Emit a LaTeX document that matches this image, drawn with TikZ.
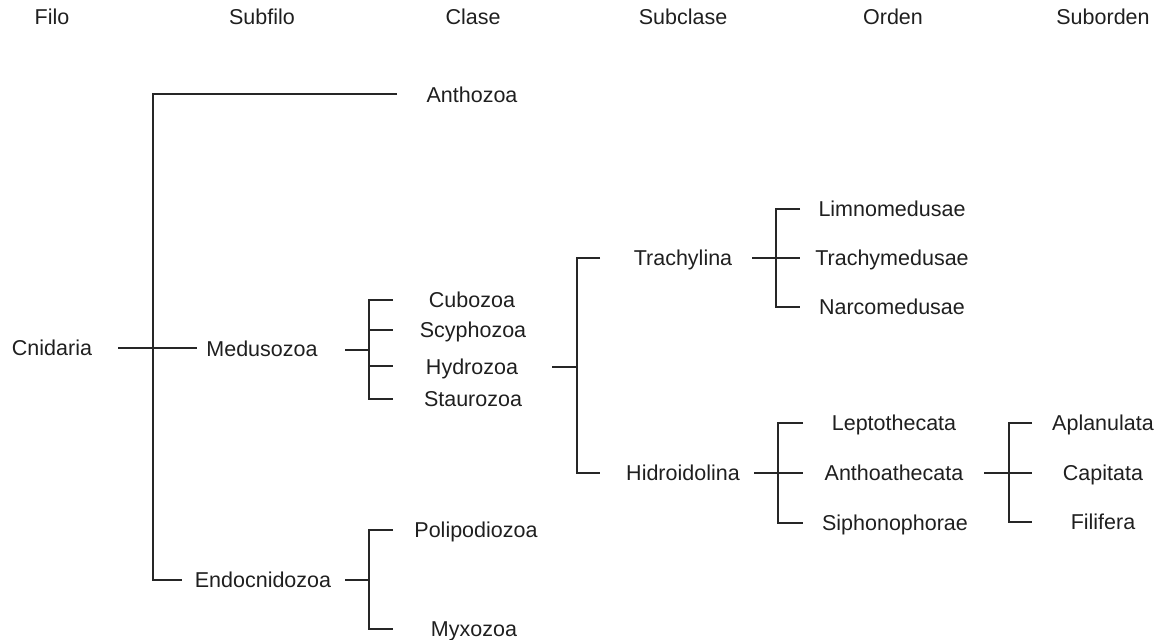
\documentclass[tikz,border=0pt]{standalone}
\usepackage{fontspec}
\setmainfont{Liberation Sans}
\begin{document}
\begin{tikzpicture}[x=1pt,y=-1pt,
  every node/.style={font=\fontsize{21.5}{26}\selectfont, text=black!88,
    inner sep=0pt, text height=15.4pt, text depth=0pt},
  taxon/.style={anchor=center},
  hdr/.style={anchor=center},
  link/.style={draw=black!85, line width=1.6pt, line cap=butt}]
\useasboundingbox (0,0) rectangle (1165,640);
% headers
\node[hdr] (hFilo) at (52,17) {Filo};
\node[hdr] (hSubfilo) at (262,17) {Subfilo};
\node[hdr] (hClase) at (473,17) {Clase};
\node[hdr] (hSubclase) at (683,17) {Subclase};
\node[hdr] (hOrden) at (893,17) {Orden};
\node[hdr] (hSuborden) at (1103,17) {Suborden};
% taxa
\node[taxon] (cnid) at (52,348) {Cnidaria};
\node[taxon] (antho) at (472,95) {Anthozoa};
\node[taxon] (medu) at (262,349) {Medusozoa};
\node[taxon] (endo) at (263,580) {Endocnidozoa};
\node[taxon] (cubo) at (472,300) {Cubozoa};
\node[taxon] (scyph) at (473,330) {Scyphozoa};
\node[taxon] (hydro) at (472,367) {Hydrozoa};
\node[taxon] (stauro) at (473,399) {Staurozoa};
\node[taxon] (poli) at (476,530) {Polipodiozoa};
\node[taxon] (myxo) at (474,629) {Myxozoa};
\node[taxon] (trachy) at (683,258) {Trachylina};
\node[taxon] (hidro) at (683,473) {Hidroidolina};
\node[taxon] (limno) at (892,209) {Limnomedusae};
\node[taxon] (trachym) at (892,258) {Trachymedusae};
\node[taxon] (narco) at (892,307) {Narcomedusae};
\node[taxon] (lepto) at (894,423) {Leptothecata};
\node[taxon] (anthoa) at (894,473) {Anthoathecata};
\node[taxon] (sipho) at (895,523) {Siphonophorae};
\node[taxon] (aplan) at (1103,423) {Aplanulata};
\node[taxon] (capit) at (1103,473) {Capitata};
\node[taxon] (filif) at (1103,522) {Filifera};
% junction coordinates
\coordinate (cnidR) at (118,348);
\coordinate (cnidJ) at (153,348);
\coordinate (anthoL) at (397,94);
\coordinate (meduL) at (197,348);
\coordinate (endoL) at (182,580);
\coordinate (meduR) at (345,350);
\coordinate (meduJ) at (369,350);
\coordinate (cuboL) at (393,300);
\coordinate (scyphL) at (393,330);
\coordinate (hydroL) at (393,366);
\coordinate (stauroL) at (393,399);
\coordinate (endoR) at (345,580);
\coordinate (endoJ) at (369,580);
\coordinate (poliL) at (393,530);
\coordinate (myxoL) at (393,629);
\coordinate (hydroR) at (552,367);
\coordinate (hydroJ) at (577,367);
\coordinate (trachyL) at (600,258);
\coordinate (hidroL) at (600,473);
\coordinate (trachyR) at (752,258);
\coordinate (trachyJ) at (776,258);
\coordinate (limnoL) at (800,209);
\coordinate (trachymL) at (800,258);
\coordinate (narcoL) at (800,307);
\coordinate (hidroR) at (754,473);
\coordinate (hidroJ) at (778,473);
\coordinate (leptoL) at (803,423);
\coordinate (anthoaL) at (803,473);
\coordinate (siphoL) at (803,523);
\coordinate (anthoaR) at (984,473);
\coordinate (anthoaJ) at (1009,473);
\coordinate (aplanL) at (1032,423);
\coordinate (capitL) at (1032,473);
\coordinate (filifL) at (1032,522);
% connectors
\draw[link] (cnidR) -- (meduL);
\draw[link] (anthoL) -| (cnidJ) |- (endoL);
\draw[link] (meduR) -- (meduJ);
\draw[link] (cuboL) -| (meduJ) |- (stauroL);
\draw[link] (meduJ |- scyphL) -- (scyphL);
\draw[link] (meduJ |- hydroL) -- (hydroL);
\draw[link] (endoR) -- (endoJ);
\draw[link] (poliL) -| (endoJ) |- (myxoL);
\draw[link] (hydroR) -- (hydroJ);
\draw[link] (trachyL) -| (hydroJ) |- (hidroL);
\draw[link] (trachyR) -- (trachymL);
\draw[link] (limnoL) -| (trachyJ) |- (narcoL);
\draw[link] (hidroR) -- (anthoaL);
\draw[link] (leptoL) -| (hidroJ) |- (siphoL);
\draw[link] (anthoaR) -- (capitL);
\draw[link] (aplanL) -| (anthoaJ) |- (filifL);
\end{tikzpicture}
\end{document}
